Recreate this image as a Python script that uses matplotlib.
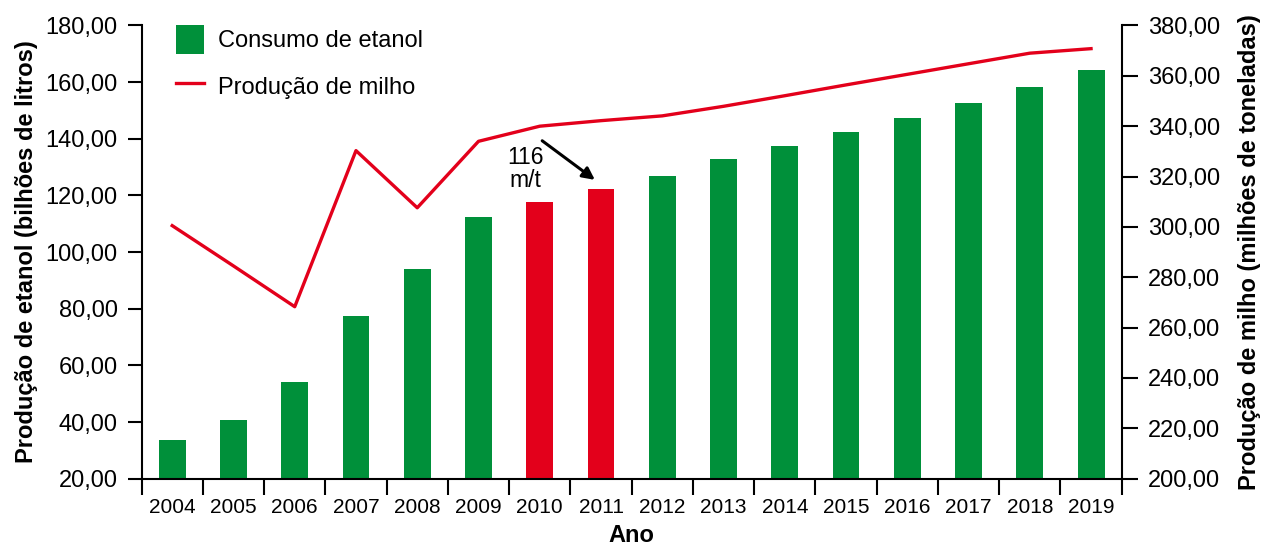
import matplotlib.pyplot as plt
from matplotlib.patches import Patch
from matplotlib.lines import Line2D
from matplotlib.ticker import FuncFormatter, FixedLocator

plt.rcParams['font.family'] = ['Liberation Sans', 'DejaVu Sans']

# dados
anos = ["2004", "2005", "2006", "2007", "2008", "2009", "2010", "2011",
        "2012", "2013", "2014", "2015", "2016", "2017", "2018", "2019"]
consumo_etanol = [33.6, 40.6, 54.1, 77.4, 94.1, 112.4, 117.7, 122.3,
                  126.8, 132.8, 137.4, 142.4, 147.4, 152.6, 158.3, 164.2]
producao_milho = [300.5, 284.5, 268.3, 330.3, 307.6, 334.0, 340.0, 342.2,
                  344.1, 347.9, 352.1, 356.4, 360.6, 364.8, 369.0, 370.8]
anos_destaque = ["2010", "2011"]

verde = "#00903a"
vermelho = "#e3001b"
fs = 17

fig = plt.figure(figsize=(12.62, 5.47), dpi=100)
ax = fig.add_axes([0.1122, 0.1249, 0.7766, 0.8285])
ax2 = ax.twinx()

x = list(range(len(anos)))
cores = [vermelho if a in anos_destaque else verde for a in anos]
ax.bar(x, consumo_etanol, width=0.44, color=cores, bottom=0, zorder=2)
ax2.plot(x, producao_milho, color=vermelho, lw=2.4, zorder=3)

ax.set_xlim(-0.5, len(anos) - 0.5)
ax.set_ylim(20, 180)
ax2.set_ylim(200, 380)

virgula = FuncFormatter(lambda v, p: f"{v:.2f}".replace(".", ","))
ax.set_yticks(range(20, 181, 20))
ax.yaxis.set_major_formatter(virgula)
ax2.set_yticks(range(200, 381, 20))
ax2.yaxis.set_major_formatter(virgula)

# ticks entre as categorias, rotulos no centro
ax.xaxis.set_major_locator(FixedLocator([i - 0.5 for i in range(len(anos) + 1)]))
ax.xaxis.set_major_formatter(FuncFormatter(lambda v, p: ""))
ax.xaxis.set_minor_locator(FixedLocator(x))
ax.xaxis.set_minor_formatter(FuncFormatter(lambda v, p: anos[int(round(v))]))
ax.tick_params(axis="x", which="major", length=11.5, width=1.5, direction="out")
ax.tick_params(axis="x", which="minor", length=0, pad=14, labelsize=15)
ax.tick_params(axis="y", length=10.3, width=1.5, pad=7, labelsize=fs)
ax2.tick_params(axis="y", length=11.8, width=1.5, pad=7, labelsize=fs)

for s in ["top", "right"]:
    ax.spines[s].set_visible(False)
for s in ["top", "left", "bottom"]:
    ax2.spines[s].set_visible(False)
for s in ["left", "bottom"]:
    ax.spines[s].set_linewidth(1.5)
ax2.spines["right"].set_linewidth(1.5)

ax.set_xlabel("Ano", fontsize=fs, fontweight="bold", labelpad=5)
ax.set_ylabel("Produção de etanol (bilhões de litros)", fontsize=fs,
              fontweight="bold", labelpad=5)
ax2.set_ylabel("Produção de milho (milhões de toneladas)", fontsize=fs,
               fontweight="bold", labelpad=13)

# anotacao 116 m/t
ax.annotate("", xy=(6.90, 125.5), xytext=(6.04, 139.3),
            arrowprops=dict(arrowstyle="-|>", color="black", lw=2.2,
                            mutation_scale=18, shrinkA=0, shrinkB=0))
ax.text(5.77, 129.5, "116\nm/t", fontsize=16.5, ha="center", va="center",
        linespacing=1.0)

handles = [Patch(facecolor=verde, edgecolor="none"),
           Line2D([0], [0], color=vermelho, lw=2.4)]
leg = ax.legend(handles, ["Consumo de etanol", "Produção de milho"],
                loc="upper left", bbox_to_anchor=(0.035, 1.002), frameon=False,
                fontsize=fs, handlelength=1.2, handleheight=1.55,
                handletextpad=0.6, labelspacing=0.75, borderpad=0,
                borderaxespad=0)

fig.savefig("out.png", dpi=100)
